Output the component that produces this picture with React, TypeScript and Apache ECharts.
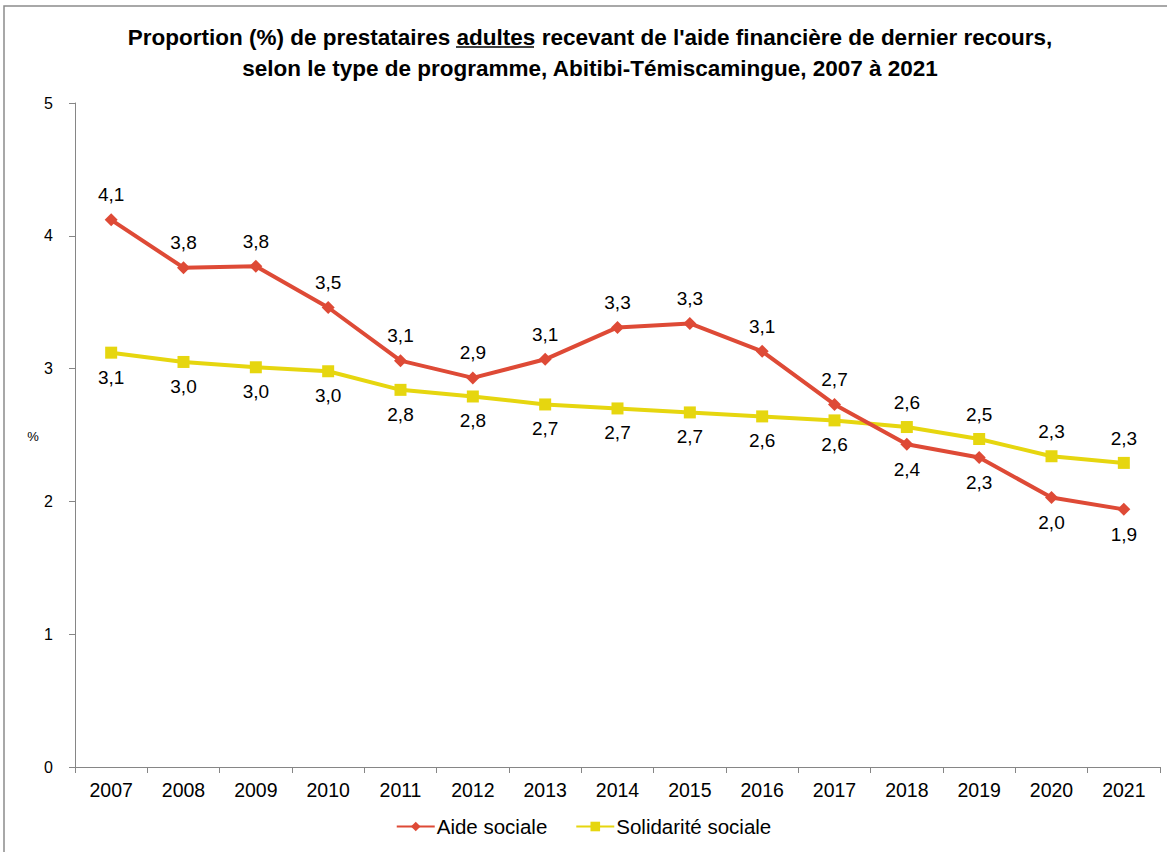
import React, { useEffect, useRef } from "react";
import * as echarts from "echarts";

const years = ["2007","2008","2009","2010","2011","2012","2013","2014","2015","2016","2017","2018","2019","2020","2021"];
const aideSociale = [4.12, 3.76, 3.77, 3.46, 3.06, 2.93, 3.07, 3.31, 3.34, 3.13, 2.73, 2.43, 2.33, 2.03, 1.94];
const solidariteSociale = [3.12, 3.05, 3.01, 2.98, 2.84, 2.79, 2.73, 2.70, 2.67, 2.64, 2.61, 2.56, 2.47, 2.34, 2.29];
const aideLabelBelow = [false,false,false,false,false,false,false,false,false,false,false,true,true,true,true];
const solLabelBelow = [true,true,true,true,true,true,true,true,true,true,true,false,false,false,false];
const yTicks = [0, 1, 2, 3, 4, 5];
const titleLine1 = "Proportion (%) de prestataires adultes recevant de l'aide financière de dernier recours,";
const titleLine2 = "selon le type de programme, Abitibi-Témiscamingue, 2007 à 2021";

const fmt = (v: number) => v.toFixed(1).replace(".", ",");

export default function App() {
  const ref = useRef<HTMLDivElement>(null);
  useEffect(() => {
    if (!ref.current) return;
    const chart = echarts.init(ref.current, undefined, { renderer: "svg" });
    const font = "'Liberation Sans', Arial, sans-serif";
    const mkData = (vals: number[], below: boolean[]) =>
      vals.map((v, i) => ({
        value: v,
        label: { position: below[i] ? "bottom" : "top" },
      }));
    chart.setOption({
      animation: false,
      backgroundColor: "#ffffff",
      textStyle: { fontFamily: font },
      graphic: [
        { type: "rect", shape: { x: 4, y: 6, width: 1200, height: 900 }, style: { fill: "none", stroke: "#8c8c8c", lineWidth: 1.5 }, silent: true },
        { type: "text", x: 590, y: 37, style: { text: titleLine1, font: `bold 22.5px ${font}`, fill: "#000", align: "center", verticalAlign: "middle" } },
        { type: "text", x: 590, y: 68, style: { text: titleLine2, font: `bold 22.5px ${font}`, fill: "#000", align: "center", verticalAlign: "middle" } },
        { type: "line", shape: { x1: 456, y1: 47, x2: 534, y2: 47 }, style: { stroke: "#000", lineWidth: 1.5 }, silent: true },
        { type: "text", x: 33, y: 436, style: { text: "%", fontSize: 13, fontFamily: font, fill: "#000", align: "center", verticalAlign: "middle" } },
      ],
      legend: {
        bottom: 10,
        left: "center",
        itemWidth: 38,
        itemHeight: 12,
        itemGap: 28,
        textStyle: { fontFamily: font, fontSize: 20.5, color: "#000", padding: [0, 0, 0, -3] },
        data: ["Aide sociale", "Solidarité sociale"],
      },
      grid: { left: 75, right: 7, top: 103, bottom: 85, containLabel: false },
      xAxis: {
        type: "category",
        data: years,
        boundaryGap: true,
        axisLine: { lineStyle: { color: "#868686", width: 1 } },
        axisTick: { show: true, alignWithLabel: false, length: 6, lineStyle: { color: "#868686" } },
        axisLabel: { fontFamily: font, fontSize: 19.5, color: "#000", margin: 13 },
      },
      yAxis: {
        type: "value",
        min: yTicks[0],
        max: yTicks[yTicks.length - 1],
        interval: 1,
        axisLine: { show: true, lineStyle: { color: "#868686", width: 1 } },
        axisTick: { show: true, length: 6, lineStyle: { color: "#868686" } },
        splitLine: { show: false },
        axisLabel: { fontFamily: font, fontSize: 16, color: "#000", margin: 22 },
      },
      series: [
        {
          name: "Aide sociale",
          type: "line",
          data: mkData(aideSociale, aideLabelBelow),
          color: "#DE4A36",
          lineStyle: { width: 4, color: "#DE4A36" },
          symbol: "diamond",
          symbolSize: 13,
          itemStyle: { color: "#DE4A36" },
          label: { show: true, fontSize: 19, fontFamily: font, color: "#000", distance: 9, formatter: (p: any) => fmt(p.value) },
          z: 3,
        },
        {
          name: "Solidarité sociale",
          type: "line",
          data: mkData(solidariteSociale, solLabelBelow),
          color: "#E6D60F",
          lineStyle: { width: 4, color: "#E6D60F" },
          symbol: "rect",
          symbolSize: 12,
          itemStyle: { color: "#E6D60F" },
          label: { show: true, fontSize: 19, fontFamily: font, color: "#000", distance: 9, formatter: (p: any) => fmt(p.value) },
          z: 2,
        },
      ],
    });
    return () => chart.dispose();
  }, []);
  return <div ref={ref} style={{ position: "absolute", left: 0, top: 0, width: 1167, height: 852 }} />;
}
